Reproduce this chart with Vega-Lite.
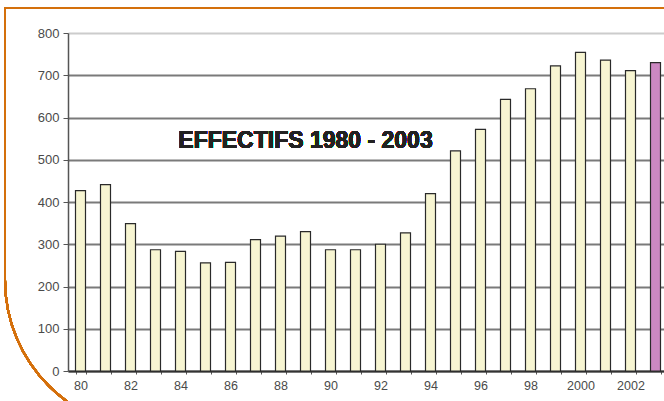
{
  "$schema": "https://vega.github.io/schema/vega-lite/v6.json",
  "autosize": {"type": "none"},
  "width": 596,
  "height": 338,
  "padding": {"left": 68, "top": 33, "right": 0, "bottom": 30},
  "background": "#ffffff",
  "config": {
    "view": {"stroke": null},
    "font": "Liberation Sans"
  },
  "data": {
    "values": [
      {"year": 1980, "value": 427},
      {"year": 1981, "value": 441},
      {"year": 1982, "value": 349},
      {"year": 1983, "value": 287},
      {"year": 1984, "value": 283},
      {"year": 1985, "value": 256},
      {"year": 1986, "value": 257},
      {"year": 1987, "value": 311},
      {"year": 1988, "value": 319},
      {"year": 1989, "value": 330},
      {"year": 1990, "value": 287},
      {"year": 1991, "value": 287},
      {"year": 1992, "value": 300},
      {"year": 1993, "value": 327},
      {"year": 1994, "value": 420},
      {"year": 1995, "value": 521},
      {"year": 1996, "value": 572},
      {"year": 1997, "value": 643},
      {"year": 1998, "value": 668},
      {"year": 1999, "value": 722},
      {"year": 2000, "value": 754},
      {"year": 2001, "value": 736},
      {"year": 2002, "value": 711},
      {"year": 2003, "value": 730}
    ]
  },
  "layer": [
    {
      "mark": {"type": "bar", "stroke": "#2a2a2a", "strokeWidth": 1.2},
      "encoding": {
        "x": {
          "field": "year",
          "type": "ordinal",
          "scale": {"range": [0, 600], "paddingInner": 0.6, "paddingOuter": 0.3},
          "axis": {
            "title": null,
            "labelAngle": 0,
            "labelExpr": "datum.value % 2 == 0 ? (datum.value < 2000 ? substring(toString(datum.value), 2, 4) : toString(datum.value)) : ''",
            "labelFontSize": 12.5,
            "labelColor": "#4a4a4a",
            "labelPadding": 5,
            "tickBand": "extent",
            "tickSize": 3,
            "tickColor": "#555555",
            "domainColor": "#333333",
            "domainWidth": 2,
            "grid": false
          }
        },
        "y": {
          "field": "value",
          "type": "quantitative",
          "scale": {"domain": [0, 800], "nice": false},
          "axis": {
            "title": null,
            "values": [0, 100, 200, 300, 400, 500, 600, 700, 800],
            "labelFontSize": 13,
            "labelColor": "#4a4a4a",
            "labelPadding": 4,
            "tickSize": 5,
            "tickColor": "#555555",
            "domainColor": "#555555",
            "domainWidth": 1.5,
            "gridColor": {"condition": {"test": "datum.value == 800", "value": "#cccccc"}, "value": "#7a7a7a"},
            "gridWidth": 2,
            "gridOpacity": 1
          }
        },
        "fill": {
          "condition": {"test": "datum.year == 2003", "value": "#cc88c2"},
          "value": "#f7f5d2"
        }
      }
    },
    {
      "mark": {"type": "text", "fontSize": 23, "fontWeight": "bold", "font": "Liberation Sans", "color": "#222222", "baseline": "middle", "align": "center"},
      "encoding": {
        "x": {"datum": 1989, "type": "ordinal"},
        "y": {"datum": 544, "type": "quantitative"},
        "text": {"value": "EFFECTIFS 1980 - 2003"}
      }
    },
    {
      "mark": {"type": "rect", "fill": null, "stroke": "#d4700c", "strokeWidth": 2, "cornerRadiusBottomLeft": 150},
      "encoding": {
        "x": {"value": -63},
        "x2": {"value": 700},
        "y": {"value": -25},
        "y2": {"value": 397}
      }
    }
  ]
}
